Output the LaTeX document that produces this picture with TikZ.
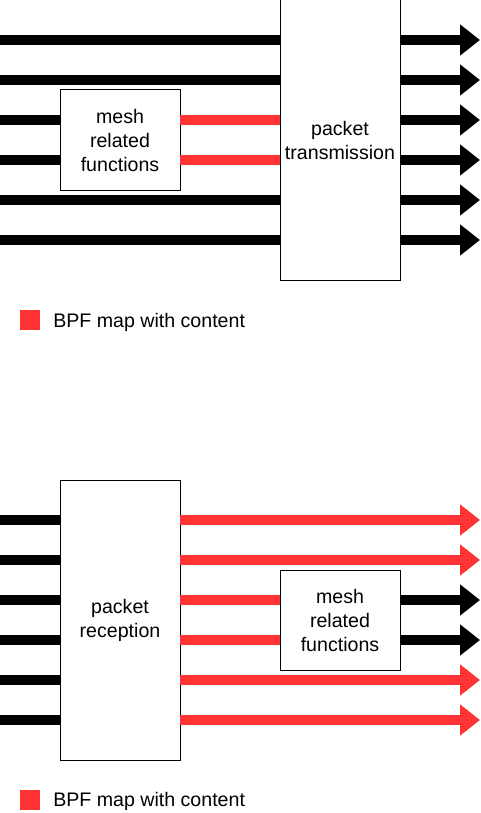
\documentclass[tikz,border=0pt]{standalone}
\usepackage{fontspec}
\setmainfont{Liberation Sans}
\usetikzlibrary{arrows.meta}
\definecolor{bpfred}{HTML}{FF3333}
\begin{document}
\begin{tikzpicture}[x=0.75pt,y=-0.75pt,
  box/.style={draw=black,fill=white,line width=0.75pt,inner sep=0pt,outer sep=0pt,align=center,font=\fontsize{14.7}{18}\selectfont},
  bigbox/.style={box,minimum width=90pt,minimum height=210pt},
  meshbox/.style={box,minimum width=90pt,minimum height=75pt},
  flow/.style={line width=7.5pt},
  blkflow/.style={flow,draw=black},
  redflow/.style={flow,draw=bpfred},
  tipped/.style={-{Triangle[length=15pt,width=22.5pt]}},
  keysq/.style={fill=bpfred,draw=none,minimum size=15pt,inner sep=0pt,outer sep=0pt},
  keytxt/.style={anchor=base west,inner sep=0pt,font=\fontsize{14.7}{18}\selectfont}
]
\useasboundingbox (0,0) rectangle (480,813);

% ---------- top diagram ----------
\node[bigbox] (tx) at (340,140) {packet\\transmission};
\node[meshbox] (m1) at (120,140) {mesh\\related\\functions};
\foreach \i/\y in {1/40,2/80,3/120,4/160,5/200,6/240}{
  \coordinate (ta\i) at (0,\y);
  \coordinate (tb\i) at (480,\y);
}
\foreach \i in {1,2,5,6}{
  \draw[blkflow] (ta\i) -- (ta\i -| tx.west);
}
\foreach \i in {3,4}{
  \draw[blkflow] (ta\i) -- (ta\i -| m1.west);
  \draw[redflow] (ta\i -| m1.east) -- (ta\i -| tx.west);
}
\foreach \i in {1,...,6}{
  \draw[blkflow,tipped] (ta\i -| tx.east) -- (tb\i);
}
\node[keysq] (k1) at (30,320) {};
\node[keytxt] (k1t) at (53,327) {BPF map with content};

% ---------- bottom diagram ----------
\node[bigbox] (rx) at (120,620) {packet\\reception};
\node[meshbox] (m2) at (340,620) {mesh\\related\\functions};
\foreach \i/\y in {1/520,2/560,3/600,4/640,5/680,6/720}{
  \coordinate (ba\i) at (0,\y);
  \coordinate (bb\i) at (480,\y);
  \draw[blkflow] (ba\i) -- (ba\i -| rx.west);
}
\foreach \i in {1,2,5,6}{
  \draw[redflow,tipped] (ba\i -| rx.east) -- (bb\i);
}
\foreach \i in {3,4}{
  \draw[redflow] (ba\i -| rx.east) -- (ba\i -| m2.west);
  \draw[blkflow,tipped] (ba\i -| m2.east) -- (bb\i);
}
\node[keysq] (k2) at (30,800) {};
\node[keytxt] (k2t) at (53,806.5) {BPF map with content};
\end{tikzpicture}
\end{document}
